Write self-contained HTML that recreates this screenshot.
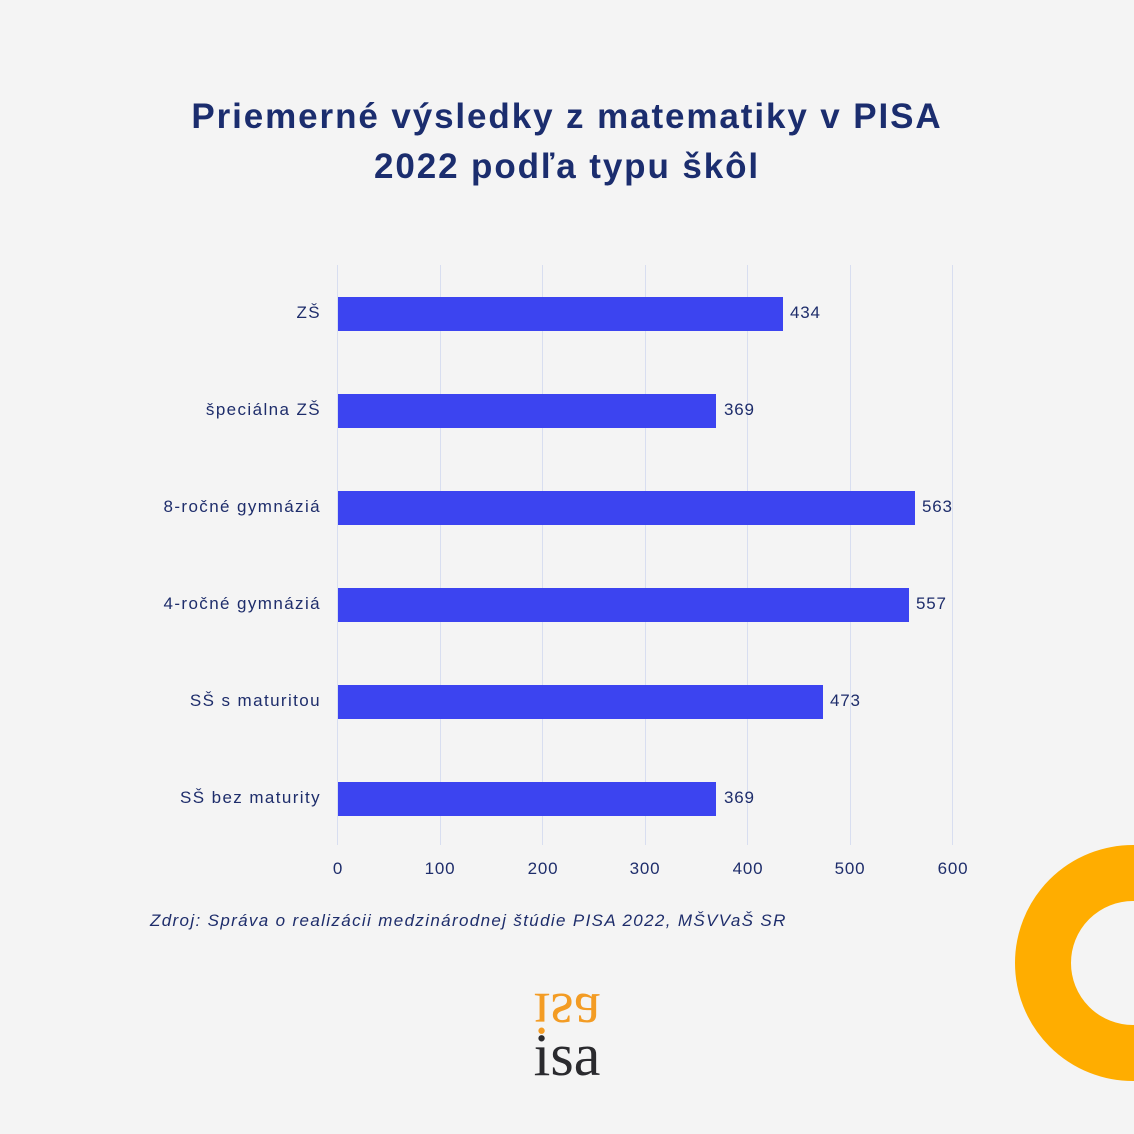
<!DOCTYPE html>
<html><head><meta charset="utf-8"><style>
body{margin:0;width:1134px;height:1134px;background:#f4f4f4;position:relative;overflow:hidden;font-family:"Liberation Sans",sans-serif;color:#1e2d6b}
.t{position:absolute;left:0;width:1134px;text-align:center;font-weight:bold;font-size:35px;letter-spacing:1.9px;color:#1b2d6e}
.lbl{position:absolute;right:813px;font-size:17px;letter-spacing:1.4px;text-align:right;white-space:nowrap}
.bar{position:absolute;left:338px;height:34px;background:#3c44f0}
.v{position:absolute;font-size:17px;letter-spacing:0.8px}
.g{position:absolute;top:265px;height:580px;width:1px;background:#d8def0}
.tk{position:absolute;top:859px;width:60px;text-align:center;font-size:17px;letter-spacing:0.8px}
</style></head><body>
<div class="t" style="top:97px">Priemerné výsledky z matematiky v PISA</div>
<div class="t" style="top:147px">2022 podľa typu škôl</div>
<div class="g" style="left:337px"></div><div class="g" style="left:440px"></div><div class="g" style="left:542px"></div><div class="g" style="left:645px"></div><div class="g" style="left:747px"></div><div class="g" style="left:850px"></div><div class="g" style="left:952px"></div>
<div class="tk" style="left:308px">0</div><div class="tk" style="left:410px">100</div><div class="tk" style="left:513px">200</div><div class="tk" style="left:615px">300</div><div class="tk" style="left:718px">400</div><div class="tk" style="left:820px">500</div><div class="tk" style="left:923px">600</div>
<div class="lbl" style="top:303px">ZŠ</div><div class="bar" style="top:297px;width:445px"></div><div class="v" style="top:303px;left:790px">434</div>
<div class="lbl" style="top:400px">špeciálna ZŠ</div><div class="bar" style="top:394px;width:378px"></div><div class="v" style="top:400px;left:724px">369</div>
<div class="lbl" style="top:497px">8-ročné gymnáziá</div><div class="bar" style="top:491px;width:577px"></div><div class="v" style="top:497px;left:922px">563</div>
<div class="lbl" style="top:594px">4-ročné gymnáziá</div><div class="bar" style="top:588px;width:571px"></div><div class="v" style="top:594px;left:916px">557</div>
<div class="lbl" style="top:691px">SŠ s maturitou</div><div class="bar" style="top:685px;width:485px"></div><div class="v" style="top:691px;left:830px">473</div>
<div class="lbl" style="top:788px">SŠ bez maturity</div><div class="bar" style="top:782px;width:378px"></div><div class="v" style="top:788px;left:724px">369</div>
<div style="position:absolute;left:150px;top:911px;font-size:17px;font-style:italic;letter-spacing:1.35px;white-space:nowrap">Zdroj: Správa o realizácii medzinárodnej štúdie PISA 2022, MŠVVaŠ SR</div>
<div style="position:absolute;left:1015px;top:845px;width:236px;height:236px;border-radius:50%;box-sizing:border-box;border:56px solid #ffad00"></div>
<div style="position:absolute;left:507px;top:984px;width:120px;text-align:center;font-family:'Liberation Serif',serif;font-size:60px;line-height:60px;color:#f39c24;transform:scaleY(-1)">isa</div>
<div style="position:absolute;left:507px;top:1025px;width:120px;text-align:center;font-family:'Liberation Serif',serif;font-size:60px;line-height:60px;color:#2a2a2e">isa</div>
</body></html>
